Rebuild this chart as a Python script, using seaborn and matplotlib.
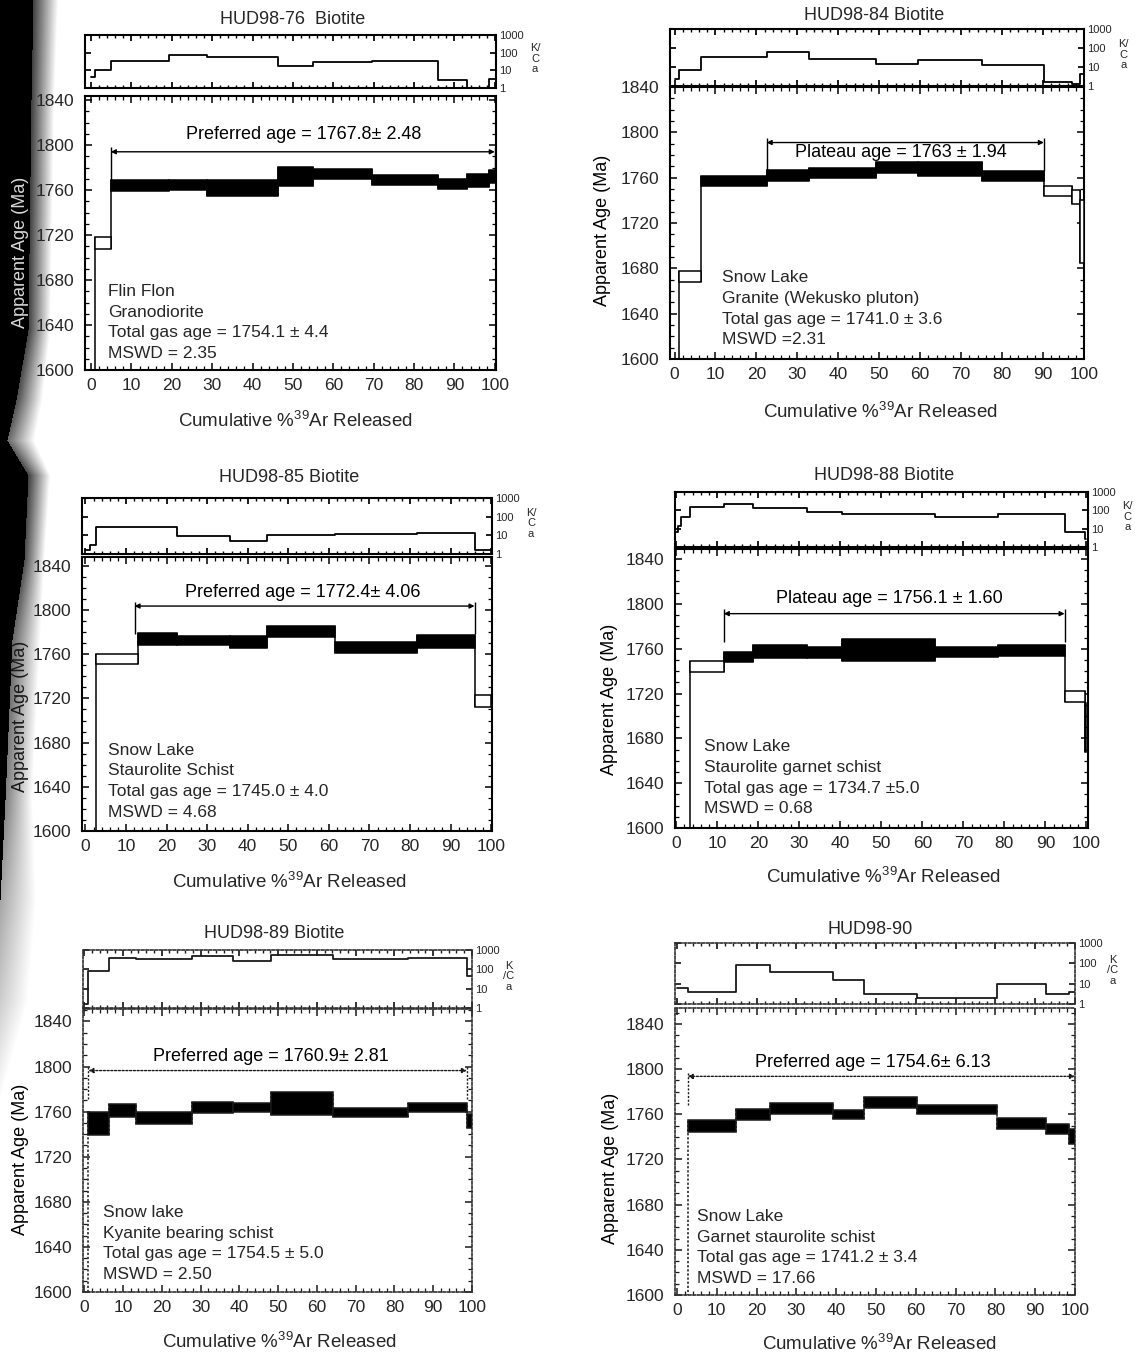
import numpy as np
import pandas as pd
import matplotlib
matplotlib.use("Agg")
import matplotlib.pyplot as plt
import seaborn as sns
from matplotlib.ticker import MultipleLocator, FixedLocator, FixedFormatter, NullLocator

# ---------------------------------------------------------------- data
# Step-heating 40Ar/39Ar spectra: step edges (cumulative %39Ar), apparent
# age (Ma), 1-sigma half-height (Ma), filled flag, K/Ca ratio of each step.

edges_76 = [0, 1.0, 4.9, 19.4, 28.8, 46.2, 55.0, 69.6, 86.0, 93.2, 98.6, 100]
age_76 = [1560, 1713, 1764, 1764.5, 1762, 1772, 1774, 1769, 1765.4, 1768.5, 1772]
err_76 = [10, 5, 4.5, 4.5, 7, 8.5, 4.3, 4.8, 4.5, 5.5, 6]
filled_76 = [0, 0, 1, 1, 1, 1, 1, 1, 1, 1, 1]
kca_76 = [4.1, 11, 34, 75, 57, 17, 31, 34, 2.7, 0.8, 3.4]
bracket_76 = [4.9, 100, 1794]
label_76 = "Preferred age = 1767.8\u00b1 2.48"
label_pos_76 = [52.6, 1809.5]
info_76 = ["Flin Flon", "Granodiorite", "Total gas age = 1754.1 \u00b1 4.4", "MSWD = 2.35"]
info_pos_76 = [4.2, 1669.6]

edges_84 = [0, 1.0, 6.5, 22.5, 32.8, 49.2, 59.5, 75.0, 90.2, 97.1, 99.1, 100]
age_84 = [1550, 1672.8, 1756.8, 1762, 1764, 1768.8, 1767.7, 1761.5, 1748, 1743, 1712.6]
err_84 = [10, 5, 4.4, 5, 4.4, 4.7, 5.9, 4.1, 4.4, 6, 28]
filled_84 = [0, 0, 1, 1, 1, 1, 1, 1, 0, 0, 0]
kca_84 = [2.4, 7.3, 35, 60, 25.5, 14.2, 22.7, 13, 1.66, 1.26, 4.1]
bracket_84 = [22.5, 90.2, 1791]
label_84 = "Plateau age = 1763 \u00b1 1.94"
label_pos_84 = [55.2, 1782.4]
info_84 = ["Snow Lake", "Granite (Wekusko pluton)", "Total gas age = 1741.0 \u00b1 3.6", "MSWD =2.31"]
info_pos_84 = [11.7, 1671.5]

edges_85 = [0, 1.0, 2.6, 13.0, 22.5, 35.6, 44.7, 61.4, 81.8, 95.9, 100]
age_85 = [1540, 1560, 1755.6, 1774, 1772.3, 1770.8, 1780.5, 1766.2, 1771.5, 1717.5]
err_85 = [10, 10, 4.5, 5.2, 4, 5.6, 4.8, 5, 6.3, 5.5]
filled_85 = [0, 0, 0, 1, 1, 1, 1, 1, 1, 0]
kca_85 = [1.7, 3.1, 28.6, 28.6, 9.2, 5, 10.4, 11.7, 12.7, 1.7]
bracket_85 = [12.1, 95.9, 1803.6]
label_85 = "Preferred age = 1772.4\u00b1 4.06"
label_pos_85 = [53.6, 1815.6]
info_85 = ["Snow Lake", "Staurolite Schist", "Total gas age = 1745.0 \u00b1 4.0", "MSWD = 4.68"]
info_pos_85 = [5.6, 1673]

edges_88 = [0, 0.5, 1.2, 3.4, 11.7, 18.7, 31.8, 40.4, 63.1, 78.4, 94.7, 99.7, 100]
age_88 = [1520, 1540, 1560, 1744, 1752.5, 1757.5, 1756.3, 1758.8, 1757.2, 1758.5, 1717.4, 1690]
err_88 = [10, 10, 10, 5, 4.6, 6.2, 5, 10, 4.5, 4.6, 5.2, 22]
filled_88 = [0, 0, 0, 0, 1, 1, 1, 1, 1, 1, 0, 0]
kca_88 = [6.5, 14, 43, 155, 212, 126, 79, 65, 42, 62, 6.5, 2.9]
bracket_88 = [11.6, 94.7, 1791.3]
label_88 = "Plateau age = 1756.1 \u00b1 1.60"
label_pos_88 = [52, 1805]
info_88 = ["Snow Lake", "Staurolite garnet schist", "Total gas age = 1734.7 \u00b15.0", "MSWD = 0.68"]
info_pos_88 = [6.8, 1672.3]

edges_89 = [0, 1.1, 6.4, 13.4, 27.9, 38.3, 48.2, 64.1, 83.5, 98.7, 100]
age_89 = [1550, 1749.3, 1761.2, 1754, 1763.7, 1763.7, 1767.4, 1759.6, 1764, 1751.7]
err_89 = [10, 10, 5.6, 5.3, 5.2, 4.3, 10.4, 4, 4, 6]
filled_89 = [0, 1, 1, 1, 1, 1, 1, 1, 1, 1]
kca_89 = [1.6, 80, 390, 347, 470, 268, 527, 347, 400, 45]
bracket_89 = [1.1, 98.7, 1796.4]
label_89 = "Preferred age = 1760.9\u00b1 2.81"
label_pos_89 = [48.2, 1808.9]
info_89 = ["Snow lake", "Kyanite bearing schist", "Total gas age = 1754.5 \u00b1 5.0", "MSWD = 2.50"]
info_pos_89 = [4.9, 1670.2]

edges_90 = [0, 2.7, 14.8, 23.4, 39.3, 46.9, 60.2, 80.5, 92.7, 98.6, 100]
age_90 = [1550, 1749.4, 1759.7, 1765.2, 1760, 1770.5, 1764.5, 1752, 1747.2, 1740.6]
err_90 = [10, 5.2, 5.2, 4.7, 4, 4.7, 4, 4.7, 4.4, 6.6]
filled_90 = [0, 1, 1, 1, 1, 1, 1, 1, 1, 1]
kca_90 = [6.4, 4.1, 80, 38, 15, 3.2, 1.95, 9.6, 3.2, 4.1]
bracket_90 = [2.7, 100, 1793.5]
label_90 = "Preferred age = 1754.6\u00b1 6.13"
label_pos_90 = [49.1, 1805.5]
info_90 = ["Snow Lake", "Garnet staurolite schist", "Total gas age = 1741.2 \u00b1 3.4", "MSWD = 17.66"]
info_pos_90 = [5.0, 1669.2]

titles = ["HUD98-76  Biotite", "HUD98-84 Biotite", "HUD98-85 Biotite",
          "HUD98-88 Biotite", "HUD98-89 Biotite", "HUD98-90"]
age_ticks = [1600, 1640, 1680, 1720, 1760, 1800, 1840]
pct_ticks = [0, 10, 20, 30, 40, 50, 60, 70, 80, 90, 100]
kca_ticks = [1, 10, 100, 1000]

samples = [
    dict(edges=edges_76, age=age_76, err=err_76, filled=filled_76, kca=kca_76,
         bracket=bracket_76, label=label_76, label_pos=label_pos_76, info=info_76, info_pos=info_pos_76),
    dict(edges=edges_84, age=age_84, err=err_84, filled=filled_84, kca=kca_84,
         bracket=bracket_84, label=label_84, label_pos=label_pos_84, info=info_84, info_pos=info_pos_84),
    dict(edges=edges_85, age=age_85, err=err_85, filled=filled_85, kca=kca_85,
         bracket=bracket_85, label=label_85, label_pos=label_pos_85, info=info_85, info_pos=info_pos_85),
    dict(edges=edges_88, age=age_88, err=err_88, filled=filled_88, kca=kca_88,
         bracket=bracket_88, label=label_88, label_pos=label_pos_88, info=info_88, info_pos=info_pos_88),
    dict(edges=edges_89, age=age_89, err=err_89, filled=filled_89, kca=kca_89,
         bracket=bracket_89, label=label_89, label_pos=label_pos_89, info=info_89, info_pos=info_pos_89),
    dict(edges=edges_90, age=age_90, err=err_90, filled=filled_90, kca=kca_90,
         bracket=bracket_90, label=label_90, label_pos=label_pos_90, info=info_90, info_pos=info_pos_90),
]

# ---------------------------------------------------------------- layout (pixels)
W, H = 1142, 1353
layout = [
    dict(main=(85, 496, 96, 370), kca=(85, 496, 35, 88), xlim=(-1.5, 100.3), ytop=1843.6,
         ylab=(-0.137, 0.43), ylab_color="#d8d8d8", xlab=(0.513, -0.15), title=(293, 19),
         dotted=False, kname="K/\nC\na"),
    dict(main=(670, 1084, 87, 359), kca=(670, 1084, 29, 86), xlim=(-1.1, 100), ytop=1840,
         ylab=(-0.143, 0.474), ylab_color="black", xlab=(0.509, -0.158), title=(874, 16),
         dotted=False, kname="K/\nC\na"),
    dict(main=(82, 492, 557, 831), kca=(82, 492, 498, 554), xlim=(-0.85, 100.2), ytop=1848,
         ylab=(-0.13, 0.42), ylab_color="#181818", xlab=(0.505, -0.15), title=(289, 477),
         dotted=False, kname="K/\nC\na"),
    dict(main=(675, 1088, 549, 828), kca=(675, 1088, 492, 547), xlim=(-0.3, 100.4), ytop=1849,
         ylab=(-0.137, 0.46), ylab_color="black", xlab=(0.504, -0.14), title=(884, 475),
         dotted=False, kname="K/\nC\na"),
    dict(main=(83, 472, 1009, 1292), kca=(83, 472, 950, 1008), xlim=(-0.3, 100), ytop=1851,
         ylab=(-0.14, 0.47), ylab_color="black", xlab=(0.505, -0.141), title=(274, 934),
         dotted=True, kname="K\n/C\na"),
    dict(main=(675, 1075, 1008, 1295), kca=(675, 1075, 943, 1004), xlim=(-0.5, 100), ytop=1854,
         ylab=(-0.14, 0.44), ylab_color="black", xlab=(0.51, -0.136), title=(870, 930),
         dotted=True, kname="K\n/C\na"),
]

sns.set_theme(style="ticks")
plt.rcParams["font.family"] = ["Liberation Sans", "DejaVu Sans"]
plt.rcParams["mathtext.fontset"] = "custom"
plt.rcParams["mathtext.rm"] = "Liberation Sans"
plt.rcParams["mathtext.it"] = "Liberation Sans:italic"
plt.rcParams["mathtext.bf"] = "Liberation Sans:bold"

fig = plt.figure(figsize=(W / 100, H / 100), dpi=100)
fig.patch.set_facecolor("white")


def rect(left, right, top, bottom):
    return [left / W, 1 - bottom / H, (right - left) / W, (bottom - top) / H]


# darkened left margin of the scanned page
bg = fig.add_axes([0, 0, 1, 1], zorder=-5)
bg.axis("off")
bg.set_xlim(0, W)
bg.set_ylim(H, 0)
band_y = [0, 100, 330, 400, 440, 475, 560, 640, 800, 900, 1000, 1100]
band_w = [33, 31, 28, 16, 7, 28, 24, 12, 5, 0, 0, 0]
band_f = [58, 54, 50, 42, 34, 50, 44, 40, 32, 36, 28, 0]
band_a = [0.75, 0.75, 0.75, 0.7, 0.6, 0.75, 0.7, 0.6, 0.5, 0.35, 0.2, 0]
rows = np.arange(H)
cols = np.arange(80)[None, :]
w_r = np.interp(rows, band_y, band_w)[:, None]
f_r = np.interp(rows, band_y, band_f)[:, None]
a_r = np.interp(rows, band_y, band_a)[:, None]
fade = np.clip((f_r - cols) / np.maximum(f_r - w_r, 1e-6), 0, 1) * a_r
alpha = np.where(cols < w_r, 1.0, fade)
img = np.zeros((H, 80, 4))
img[..., 3] = alpha
bg.imshow(img, extent=(0, 80, H, 0), aspect="auto", interpolation="bilinear")


def style_frame(ax, dotted):
    for sp in ax.spines.values():
        sp.set_visible(True)
        sp.set_linewidth(1.2 if dotted else 1.5)
        sp.set_color("#303030" if dotted else "black")
        if dotted:
            sp.set_linestyle((0, (1.5, 1.2)))


for d, lay, title in zip(samples, layout, titles):
    dotted = lay["dotted"]
    lc = "#1a1a1a" if dotted else "black"
    dash = (0, (1.5, 1.2)) if dotted else "solid"
    edges = np.asarray(d["edges"], float)
    age = np.asarray(d["age"], float)
    err = np.asarray(d["err"], float)
    filled = np.asarray(d["filled"], bool)

    ax = fig.add_axes(rect(*lay["main"]))
    kx = fig.add_axes(rect(*lay["kca"]))

    # age spectrum boxes
    ax.bar(edges[:-1], 2 * err, width=np.diff(edges), bottom=age - err, align="edge",
           color=np.where(filled, "black", "white"), edgecolor=lc, linewidth=1.1, zorder=3)
    lo, hi = age - err, age + err
    ax.vlines(edges[1:-1], np.minimum(lo[:-1], lo[1:]), np.maximum(hi[:-1], hi[1:]),
              color=lc, linewidth=1.1, linestyles=dash, zorder=2)

    # plateau / preferred age bracket
    bx0, bx1, by = d["bracket"]
    ax.annotate("", xy=(bx0, by), xytext=(bx1, by),
                arrowprops=dict(arrowstyle="<|-|>", color=lc, lw=1.0, shrinkA=0, shrinkB=0,
                                mutation_scale=7, linestyle=dash))
    ax.vlines([bx0, bx1], by - 25, by + 4, color=lc, linewidth=1.0, linestyles=dash)
    ax.text(d["label_pos"][0], d["label_pos"][1], d["label"], ha="center", va="center",
            fontsize=13, color="black")
    for k, line in enumerate(d["info"]):
        ax.annotate(line, xy=tuple(d["info_pos"]), xytext=(0, -14.8 * k),
                    textcoords="offset points", ha="left", va="center", fontsize=12.5)

    ax.set_xlim(*lay["xlim"])
    ax.set_ylim(1600, lay["ytop"])
    ax.xaxis.set_major_locator(FixedLocator(pct_ticks))
    ax.xaxis.set_minor_locator(MultipleLocator(2))
    ax.yaxis.set_major_locator(FixedLocator(age_ticks))
    ax.yaxis.set_minor_locator(MultipleLocator(10))
    ax.tick_params(which="both", direction="in", top=True, right=True, color=lc)
    ax.tick_params(which="major", length=5, width=1.1, labelsize=12.5)
    ax.tick_params(axis="y", which="major", pad=8)
    ax.tick_params(axis="x", which="major", pad=6)
    ax.tick_params(which="minor", length=3, width=0.9)
    style_frame(ax, dotted)
    ax.set_ylabel("Apparent Age (Ma)", fontsize=13, color=lay["ylab_color"])
    ax.yaxis.set_label_coords(*lay["ylab"])
    ax.set_xlabel(r"Cumulative %$^{39}$Ar Released", fontsize=13.5)
    ax.xaxis.set_label_coords(*lay["xlab"])
    ax.grid(False)

    # K/Ca strip
    kdf = pd.DataFrame({"pct": edges, "kca": np.r_[d["kca"], d["kca"][-1]]})
    sns.lineplot(data=kdf, x="pct", y="kca", drawstyle="steps-post", estimator=None,
                 sort=False, color=lc, linewidth=1.3, ax=kx, legend=False)
    kx.set_yscale("log")
    kx.set_ylim(1, 1000)
    kx.set_xlim(*lay["xlim"])
    kx.set_xlabel("")
    kx.set_ylabel("")
    kx.yaxis.set_major_locator(FixedLocator(kca_ticks))
    kx.yaxis.set_major_formatter(FixedFormatter([str(t) for t in kca_ticks]))
    kx.yaxis.set_minor_locator(NullLocator())
    kx.xaxis.set_major_locator(FixedLocator(pct_ticks))
    kx.xaxis.set_minor_locator(MultipleLocator(2))
    kx.tick_params(axis="y", which="both", direction="in", left=True, right=True,
                   labelleft=False, labelright=True, labelsize=8, pad=2, length=4, color=lc)
    kx.tick_params(axis="x", which="both", direction="in", top=True, bottom=True,
                   labelbottom=False, color=lc)
    kx.tick_params(axis="x", which="major", length=4)
    kx.tick_params(axis="x", which="minor", length=2.5)
    style_frame(kx, dotted)
    kx.grid(False)
    kx.text(1.095, 0.55, lay["kname"], transform=kx.transAxes, ha="center", va="center",
            fontsize=8, linespacing=1.05)

    fig.text(lay["title"][0] / W, 1 - lay["title"][1] / H, title, ha="center", va="center",
             fontsize=13)

fig.savefig("out.png", dpi=100, facecolor="white")
